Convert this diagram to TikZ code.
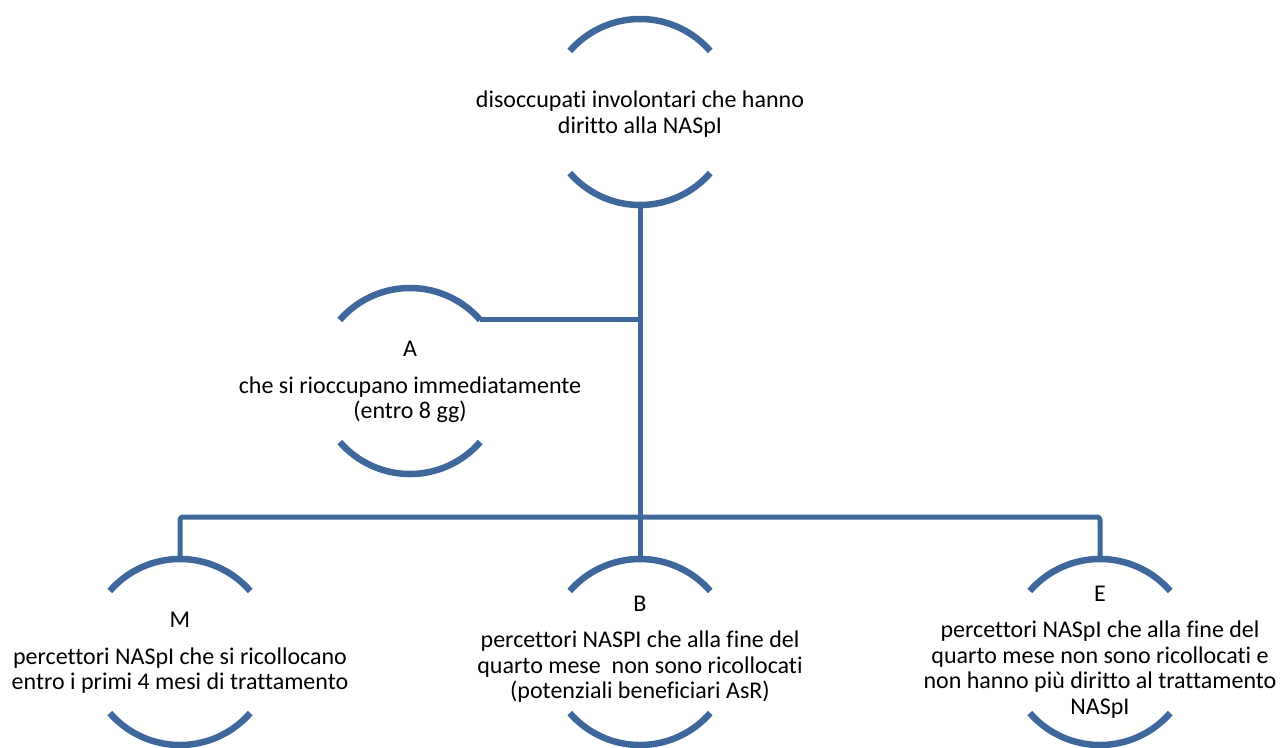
\documentclass[tikz,border=0pt]{standalone}
\usepackage{fontspec}
\setmainfont{Carlito}[Ligatures={NoCommon}]
\definecolor{nodeblue}{RGB}{62,104,156}
\tikzset{
  ring/.style={circle, minimum size=186pt, inner sep=0pt, outer sep=0pt},
  arcline/.style={draw=nodeblue, line width=6.5pt},
  link/.style={draw=nodeblue, line width=5pt},
  txt/.style={align=center, inner sep=0pt, font=\fontsize{24}{25.5}\selectfont, text=black},
}
\begin{document}
\begin{tikzpicture}[x=1pt,y=1pt]
\useasboundingbox (0,0) rectangle (1281,-747);
\clip (0,0) rectangle (1281,-747);
% circles (invisible anchors)
\node[ring] (c0) at (640,-112) {};
\node[ring] (cA) at (410,-381) {};
\node[ring] (cM) at (180,-652) {};
\node[ring] (cB) at (640,-652) {};
\node[ring] (cE) at (1100,-652) {};
% arcs
\foreach \c in {c0,cA,cM,cB,cE}{
  \draw[arcline] (\c.139) arc[start angle=139, end angle=41, radius=93pt];
  \draw[arcline] (\c.221) arc[start angle=221, end angle=319, radius=93pt];
}
% connectors
\draw[link] (c0.south) -- (cB.north);
\draw[link] (cA.41) -- (cA.41 -| c0.south);
\draw[link, rounded corners=3pt] (cM.north) -- ++(0,42) -| (cE.north);
% texts
\node[txt] (t0) at (640,-114) {disoccupati involontari che hanno\\diritto alla NASpI};
\node[txt] (tA) at (410,-382) {A\\[11pt]che si rioccupano immediatamente\\(entro 8 gg)};
\node[txt] (tM) at (180,-653) {M\\[11pt]percettori NASpI che si ricollocano\\entro i primi 4 mesi di trattamento};
\node[txt] (tB) at (640,-649) {B\\[11pt]percettori NASPI che alla fine del\\quarto mese\ \ non sono ricollocati\\(potenziali beneficiari AsR)};
\node[txt] (tE) at (1100,-652) {E\\[11pt]percettori NASpI che alla fine del\\quarto mese non sono ricollocati e\\non hanno più diritto al trattamento\\NASpI};
\end{tikzpicture}
\end{document}
